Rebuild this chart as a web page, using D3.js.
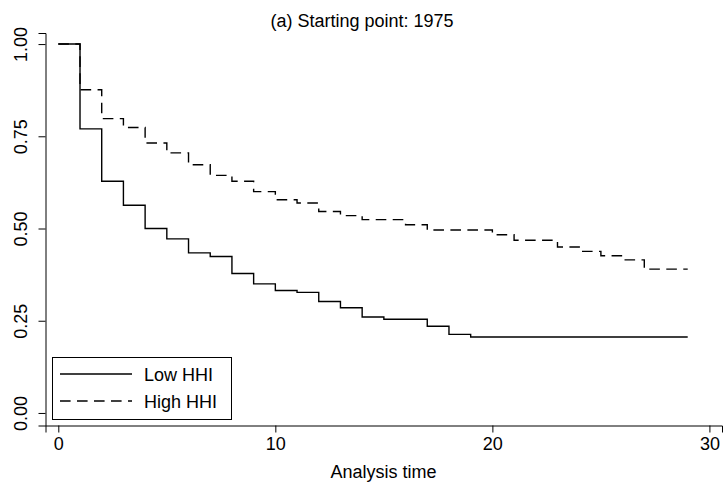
<!DOCTYPE html>
<html>
<head>
<meta charset="utf-8">
<script src="https://cdn.jsdelivr.net/npm/d3@7"></script>
<style>
    body { margin: 0; background: #fff; }
    svg { display: block; font-family: "Liberation Sans", Arial, Helvetica, sans-serif; }
    .axis path, .axis line { stroke: #000; stroke-width: 1; }
    .axis text { font-size: 18px; fill: #000; }
    .km { fill: none; stroke: #000; stroke-width: 1.4; }
</style>
</head>
<body>
<svg id="chart" width="724" height="489"></svg>
<script>
"use strict";
// Kaplan-Meier estimates
var lowTimes = [0, 1, 2, 3, 4, 5, 6, 7, 8, 9, 10, 11, 12, 13, 14, 15, 17, 18, 19, 29];
var lowSurv = [1.0, 0.770, 0.628, 0.563, 0.500, 0.472, 0.434, 0.424, 0.378, 0.350,
    0.332, 0.327, 0.302, 0.285, 0.260, 0.254, 0.235, 0.213, 0.206, 0.206];
var highTimes = [0, 1, 2, 3, 4, 5, 6, 7, 8, 9, 10, 11, 12, 13, 14, 16, 17, 20, 21, 23, 24, 25, 26, 27, 29];
var highSurv = [1.0, 0.876, 0.798, 0.774, 0.732, 0.705, 0.673, 0.644, 0.628, 0.600,
    0.578, 0.569, 0.546, 0.535, 0.524, 0.510, 0.496, 0.483, 0.468, 0.450,
    0.438, 0.426, 0.415, 0.390, 0.390];
var xTicks = [0, 10, 20, 30];
var yTicks = [0, 0.25, 0.5, 0.75, 1];
var seriesNames = ["Low HHI", "High HHI"];
var dashPattern = "10.6,6.4";

var svg = d3.select("#chart");

// domains padded a little past the ticks, like the original graph
var x = d3.scaleLinear().domain([-0.59, 30.58]).range([45.5, 722]);
var y = d3.scaleLinear().domain([-0.034, 1.03]).range([425.5, 33]);

var xAxis = svg.append("g")
    .attr("class", "axis")
    .attr("transform", "translate(0,425.5)")
    .call(d3.axisBottom(x).tickValues(xTicks).tickSizeOuter(0).tickSize(7).tickPadding(5)
        .tickFormat(d3.format("d")));

var yAxis = svg.append("g")
    .attr("class", "axis")
    .attr("transform", "translate(45.5,0)")
    .call(d3.axisLeft(y).tickValues(yTicks).tickSizeOuter(0).tickSize(7)
        .tickFormat(d3.format(".2f")));
yAxis.selectAll(".tick text")
    .attr("x", null).attr("dy", null)
    .attr("text-anchor", "middle")
    .attr("transform", "translate(-18.5,0) rotate(-90)");

svg.append("text")
    .attr("x", 383.5)
    .attr("y", 477.5)
    .attr("text-anchor", "middle")
    .style("font-size", "18px")
    .text("Analysis time");

svg.append("text")
    .attr("x", 362)
    .attr("y", 27)
    .attr("text-anchor", "middle")
    .style("font-size", "18px")
    .text("(a) Starting point: 1975");

function pairs(times, surv) {
    return times.map(function (t, i) { return [t, surv[i]]; });
}

var line = d3.line()
    .x(function (d) { return x(d[0]); })
    .y(function (d) { return y(d[1]); })
    .curve(d3.curveStepAfter);

svg.append("path")
    .attr("class", "km")
    .attr("d", line(pairs(highTimes, highSurv)))
    .attr("stroke-dasharray", dashPattern);

svg.append("path")
    .attr("class", "km")
    .attr("d", line(pairs(lowTimes, lowSurv)));

// legend
var legend = svg.append("g").attr("transform", "translate(52,357)");
legend.append("rect")
    .attr("x", 0.5).attr("y", 0.5)
    .attr("width", 179).attr("height", 62)
    .attr("fill", "#fff").attr("stroke", "#000").attr("stroke-width", 1);
var item = legend.selectAll("g.item")
    .data(seriesNames)
    .enter().append("g")
    .attr("class", "item")
    .attr("transform", function (d, i) { return "translate(0," + (17 + i * 27) + ")"; });
item.append("line")
    .attr("x1", 8).attr("x2", 80)
    .attr("stroke", "#000").attr("stroke-width", 1.4)
    .attr("stroke-dasharray", function (d, i) { return i == 1 ? dashPattern : null; });
item.append("text")
    .attr("x", 92).attr("y", 7)
    .style("font-size", "18px")
    .text(function (d) { return d; });
</script>
</body>
</html>
